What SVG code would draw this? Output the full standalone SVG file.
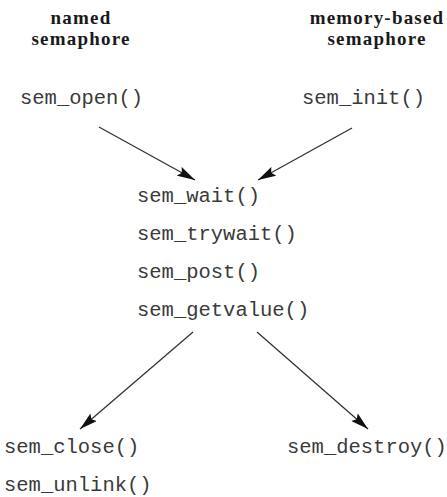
<svg xmlns="http://www.w3.org/2000/svg" width="447" height="497" viewBox="0 0 447 497">
  <style>
    .head { font-family: "Liberation Serif", "DejaVu Serif", serif; font-weight: bold; font-size: 19px; letter-spacing: 1.2px; fill: #1a1a1a; text-anchor: middle; }
    .fn { font-family: "Liberation Mono", "DejaVu Sans Mono", monospace; font-size: 20.5px; fill: #3a3a3a; }
    .edge { stroke: #333; stroke-width: 1.3; fill: none; marker-end: url(#arrow); }
  </style>
  <defs>
    <marker id="arrow" viewBox="0 0 18 10" refX="18" refY="5" markerWidth="18" markerHeight="10" markerUnits="userSpaceOnUse" orient="auto">
      <path d="M0,0 L18,5 L0,10 L3,5 Z" fill="#111"/>
    </marker>
  </defs>
  <rect width="447" height="497" fill="#fff"/>

  <g id="named-header">
    <text class="head" x="81" y="24">named</text>
    <text class="head" x="81" y="45">semaphore</text>
  </g>
  <g id="memory-header">
    <text class="head" x="377" y="24">memory-based</text>
    <text class="head" x="377" y="45">semaphore</text>
  </g>

  <g id="sem_open"><text class="fn" x="20" y="104">sem_open()</text></g>
  <g id="sem_init"><text class="fn" x="302" y="104">sem_init()</text></g>

  <g id="common">
    <text class="fn" x="137" y="202">sem_wait()</text>
    <text class="fn" x="137" y="240">sem_trywait()</text>
    <text class="fn" x="137" y="278">sem_post()</text>
    <text class="fn" x="137" y="316">sem_getvalue()</text>
  </g>

  <g id="sem_close">
    <text class="fn" x="4" y="453">sem_close()</text>
    <text class="fn" x="4" y="491">sem_unlink()</text>
  </g>
  <g id="sem_destroy"><text class="fn" x="287" y="453">sem_destroy()</text></g>

  <g id="connectors">
    <line class="edge" x1="99" y1="127" x2="195" y2="180"/>
    <line class="edge" x1="352" y1="128" x2="258" y2="180"/>
    <line class="edge" x1="193" y1="332" x2="80" y2="429"/>
    <line class="edge" x1="257" y1="332" x2="368" y2="429"/>
  </g>
</svg>
